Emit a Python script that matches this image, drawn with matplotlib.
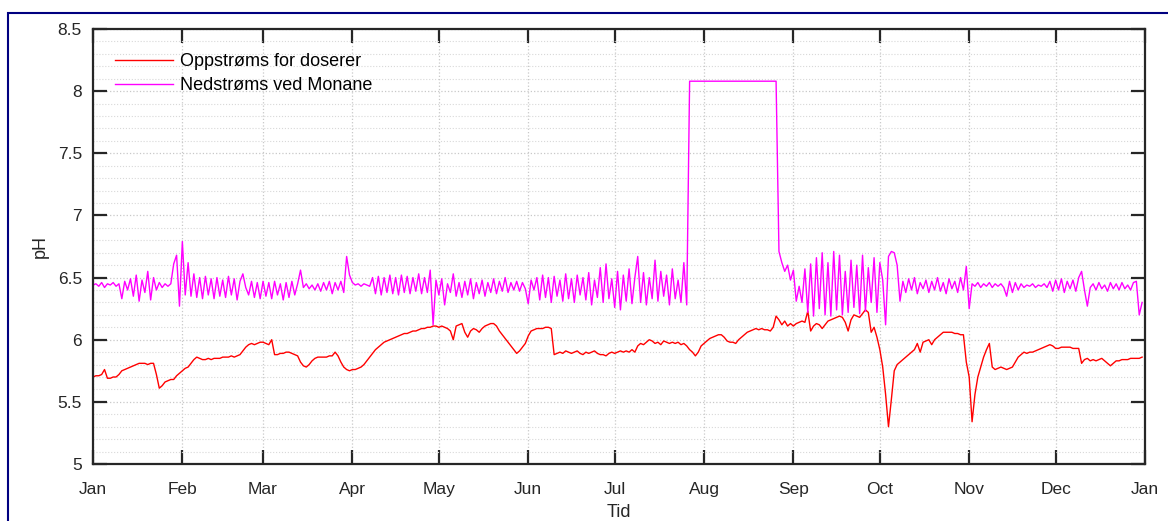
import numpy as np
import pandas as pd
import matplotlib
matplotlib.use("Agg")
import matplotlib.pyplot as plt
import matplotlib.dates as mdates
from matplotlib.patches import Rectangle

# daily pH readings, month by month
oppstroms = (
    # Jan
    [5.70, 5.71, 5.71, 5.72, 5.76, 5.69, 5.69, 5.70, 5.70, 5.72,
     5.75, 5.76, 5.77, 5.78, 5.79, 5.80, 5.81, 5.81, 5.81, 5.80,
     5.81, 5.81, 5.72, 5.61, 5.63, 5.66, 5.67, 5.68, 5.68, 5.71,
     5.73]
    # Feb
    + [5.75, 5.77, 5.78, 5.81, 5.84, 5.86, 5.85, 5.84, 5.84, 5.85,
       5.84, 5.85, 5.85, 5.85, 5.86, 5.86, 5.86, 5.87, 5.86, 5.87,
       5.88, 5.91, 5.94, 5.96, 5.97, 5.96, 5.97, 5.98]
    # Mar
    + [5.98, 5.97, 5.96, 6.00, 5.88, 5.88, 5.89, 5.89, 5.90, 5.90,
       5.89, 5.88, 5.87, 5.82, 5.79, 5.78, 5.80, 5.83, 5.85, 5.86,
       5.86, 5.86, 5.86, 5.87, 5.87, 5.90, 5.87, 5.82, 5.78, 5.76,
       5.75]
    # Apr
    + [5.76, 5.76, 5.77, 5.78, 5.80, 5.83, 5.86, 5.89, 5.92, 5.94,
       5.96, 5.98, 5.99, 6.00, 6.01, 6.02, 6.03, 6.04, 6.05, 6.05,
       6.06, 6.07, 6.07, 6.08, 6.09, 6.09, 6.10, 6.10, 6.11, 6.11]
    # May
    + [6.10, 6.11, 6.10, 6.09, 6.07, 6.00, 6.11, 6.12, 6.13, 6.06,
       6.02, 6.07, 6.09, 6.08, 6.06, 6.09, 6.11, 6.12, 6.13, 6.13,
       6.11, 6.07, 6.04, 6.01, 5.98, 5.95, 5.92, 5.89, 5.91, 5.94,
       5.97]
    # Jun
    + [6.03, 6.07, 6.08, 6.09, 6.09, 6.09, 6.10, 6.10, 6.09, 5.88,
       5.89, 5.90, 5.89, 5.91, 5.90, 5.89, 5.90, 5.91, 5.89, 5.88,
       5.90, 5.89, 5.90, 5.91, 5.89, 5.88, 5.88, 5.87, 5.89, 5.90]
    # Jul
    + [5.89, 5.90, 5.91, 5.90, 5.91, 5.90, 5.92, 5.90, 5.95, 5.97,
       5.96, 5.98, 6.00, 5.99, 5.97, 5.98, 5.96, 5.99, 5.98, 5.97,
       5.98, 5.97, 5.98, 5.96, 5.97, 5.95, 5.92, 5.90, 5.87, 5.90,
       5.95]
    # Aug
    + [5.97, 5.99, 6.01, 6.02, 6.03, 6.04, 6.04, 6.02, 5.99, 5.98,
       5.98, 5.97, 6.00, 6.02, 6.04, 6.06, 6.07, 6.08, 6.09, 6.08,
       6.09, 6.08, 6.08, 6.07, 6.10, 6.19, 6.16, 6.12, 6.15, 6.11,
       6.13]
    # Sep
    + [6.11, 6.13, 6.14, 6.15, 6.14, 6.23, 6.07, 6.11, 6.13, 6.12,
       6.09, 6.12, 6.15, 6.16, 6.17, 6.18, 6.19, 6.18, 6.14, 6.07,
       6.16, 6.20, 6.19, 6.18, 6.21, 6.24, 6.22, 6.06, 6.10, 6.02]
    # Oct
    + [5.92, 5.78, 5.56, 5.30, 5.52, 5.75, 5.80, 5.82, 5.84, 5.86,
       5.88, 5.90, 5.92, 5.97, 5.90, 5.98, 5.99, 6.00, 5.96, 6.00,
       6.02, 6.04, 6.06, 6.06, 6.06, 6.06, 6.05, 6.05, 6.04, 6.04,
       5.82]
    # Nov
    + [5.70, 5.34, 5.56, 5.70, 5.78, 5.86, 5.92, 5.97, 5.78, 5.76,
       5.77, 5.78, 5.77, 5.76, 5.77, 5.78, 5.82, 5.86, 5.88, 5.90,
       5.89, 5.90, 5.90, 5.91, 5.92, 5.93, 5.94, 5.95, 5.96, 5.95]
    # Dec
    + [5.93, 5.93, 5.94, 5.94, 5.94, 5.94, 5.93, 5.93, 5.93, 5.81,
       5.84, 5.85, 5.83, 5.84, 5.83, 5.84, 5.85, 5.83, 5.81, 5.79,
       5.81, 5.83, 5.83, 5.84, 5.84, 5.84, 5.85, 5.85, 5.85, 5.85,
       5.86]
)

nedstroms = (
    # Jan
    [6.44, 6.45, 6.43, 6.46, 6.42, 6.45, 6.44, 6.46, 6.43, 6.45,
     6.33, 6.47, 6.40, 6.49, 6.35, 6.52, 6.31, 6.48, 6.38, 6.55,
     6.32, 6.50, 6.40, 6.46, 6.42, 6.45, 6.43, 6.45, 6.61, 6.68,
     6.27]
    # Feb
    + [6.79, 6.36, 6.62, 6.35, 6.53, 6.34, 6.50, 6.33, 6.51, 6.36,
       6.49, 6.33, 6.50, 6.35, 6.48, 6.34, 6.51, 6.36, 6.49, 6.32,
       6.47, 6.53, 6.42, 6.36, 6.47, 6.34, 6.46, 6.33]
    # Mar
    + [6.47, 6.35, 6.46, 6.33, 6.47, 6.36, 6.45, 6.32, 6.46, 6.34,
       6.47, 6.36, 6.45, 6.56, 6.42, 6.45, 6.41, 6.44, 6.40, 6.45,
       6.39, 6.46, 6.40, 6.47, 6.37, 6.46, 6.40, 6.47, 6.38, 6.67,
       6.52]
    # Apr
    + [6.46, 6.44, 6.45, 6.43, 6.45, 6.44, 6.43, 6.50, 6.37, 6.51,
       6.36, 6.50, 6.38, 6.52, 6.37, 6.50, 6.36, 6.52, 6.38, 6.51,
       6.37, 6.50, 6.39, 6.53, 6.37, 6.50, 6.38, 6.56, 6.12, 6.48]
    # May
    + [6.36, 6.49, 6.28, 6.45, 6.38, 6.53, 6.35, 6.46, 6.34, 6.47,
       6.36, 6.49, 6.33, 6.46, 6.37, 6.48, 6.35, 6.46, 6.38, 6.49,
       6.37, 6.47, 6.39, 6.50, 6.38, 6.46, 6.40, 6.47, 6.39, 6.46,
       6.41]
    # Jun
    + [6.29, 6.48, 6.40, 6.50, 6.32, 6.52, 6.34, 6.50, 6.30, 6.51,
       6.35, 6.48, 6.31, 6.53, 6.33, 6.49, 6.30, 6.52, 6.36, 6.50,
       6.32, 6.54, 6.28, 6.48, 6.34, 6.58, 6.30, 6.61, 6.33, 6.49]
    # Jul
    + [6.26, 6.55, 6.24, 6.52, 6.31, 6.57, 6.29, 6.50, 6.67, 6.30,
       6.54, 6.28, 6.50, 6.33, 6.64, 6.31, 6.55, 6.35, 6.52, 6.28,
       6.57, 6.33, 6.48, 6.30, 6.62, 6.28, 8.08, 8.08, 8.08, 8.08,
       8.08]
    # Aug
    + [8.08, 8.08, 8.08, 8.08, 8.08, 8.08, 8.08, 8.08, 8.08, 8.08,
       8.08, 8.08, 8.08, 8.08, 8.08, 8.08, 8.08, 8.08, 8.08, 8.08,
       8.08, 8.08, 8.08, 8.08, 8.08, 8.08, 6.71, 6.62, 6.55, 6.60,
       6.48]
    # Sep
    + [6.56, 6.31, 6.43, 6.30, 6.57, 6.22, 6.61, 6.19, 6.66, 6.25,
       6.70, 6.20, 6.62, 6.19, 6.71, 6.24, 6.68, 6.20, 6.55, 6.22,
       6.64, 6.26, 6.60, 6.21, 6.68, 6.23, 6.58, 6.30, 6.66, 6.22]
    # Oct
    + [6.62, 6.48, 6.12, 6.67, 6.71, 6.70, 6.60, 6.31, 6.47, 6.38,
       6.49, 6.40, 6.50, 6.37, 6.46, 6.41, 6.48, 6.38, 6.47, 6.40,
       6.50, 6.39, 6.46, 6.37, 6.49, 6.41, 6.47, 6.38, 6.50, 6.40,
       6.59]
    # Nov
    + [6.25, 6.45, 6.43, 6.46, 6.42, 6.45, 6.43, 6.46, 6.42, 6.45,
       6.43, 6.45, 6.42, 6.35, 6.47, 6.38, 6.46, 6.40, 6.45, 6.42,
       6.44, 6.43, 6.45, 6.42, 6.44, 6.43, 6.45, 6.42, 6.47, 6.39]
    # Dec
    + [6.48, 6.40, 6.49, 6.38, 6.47, 6.41, 6.48, 6.39, 6.50, 6.55,
       6.40, 6.27, 6.42, 6.45, 6.40, 6.46, 6.41, 6.44, 6.39, 6.46,
       6.41, 6.45, 6.40, 6.46, 6.41, 6.44, 6.40, 6.46, 6.47, 6.20,
       6.30]
)

series_names = ["Oppstrøms for doserer", "Nedstrøms ved Monane"]

dates_up = pd.date_range("2019-01-01", periods=len(oppstroms), freq="D")
dates_down = pd.date_range("2019-01-01", periods=len(nedstroms), freq="D")

plt.rcParams["font.family"] = ["Liberation Sans", "DejaVu Sans"]

W, H = 1168, 521
fig = plt.figure(figsize=(W / 100, H / 100), dpi=100)
ax = fig.add_axes([93 / W, 1 - 464 / H, (1145 - 93) / W, (464 - 29) / H])

ax.plot(dates_up, oppstroms, color="#ff0000", lw=1.0, label=series_names[0])
ax.plot(dates_down, nedstroms, color="#ff00ff", lw=1.0, label=series_names[1])

ax.set_xlim(pd.Timestamp("2019-01-01"), pd.Timestamp("2020-01-01"))
ax.set_ylim(5, 8.5)
ax.xaxis.set_major_locator(mdates.MonthLocator())
ax.xaxis.set_major_formatter(mdates.DateFormatter("%b"))
ax.set_yticks(np.arange(5, 8.51, 0.5))
ax.set_yticklabels(["5", "5.5", "6", "6.5", "7", "7.5", "8", "8.5"])
ax.set_yticks(np.arange(5, 8.51, 0.1), minor=True)

ax.grid(True, which="major", color="#c8c8c8", ls=":", lw=0.9)
ax.grid(True, which="minor", axis="y", color="#d8d8d8", ls=":", lw=0.8)
ax.set_axisbelow(True)

ax.tick_params(which="major", direction="in", length=10, width=1.6,
               top=True, right=True, labelsize=12.5, colors="#262626")
ax.tick_params(axis="x", which="major", pad=13)
ax.tick_params(axis="y", which="major", pad=8)
ax.tick_params(which="minor", length=0, left=False, right=False)
for s in ax.spines.values():
    s.set_linewidth(1.6)
    s.set_color("#262626")

ax.set_ylabel("pH", fontsize=13, color="#262626", labelpad=6)
ax.set_xlabel("Tid", fontsize=13, color="#262626", labelpad=5)

ax.legend(loc="upper left", bbox_to_anchor=(0.021, 0.945), frameon=False,
          fontsize=13, handlelength=3.2, handletextpad=0.4,
          labelspacing=0.4, borderaxespad=0, borderpad=0)

# dark blue frame around the figure
fig.add_artist(Rectangle((8 / W, -0.1), 1.2, 1.1 - 13 / H,
                         transform=fig.transFigure, fill=False,
                         edgecolor="#000080", lw=1.5))

fig.savefig("out.png", dpi=100)
